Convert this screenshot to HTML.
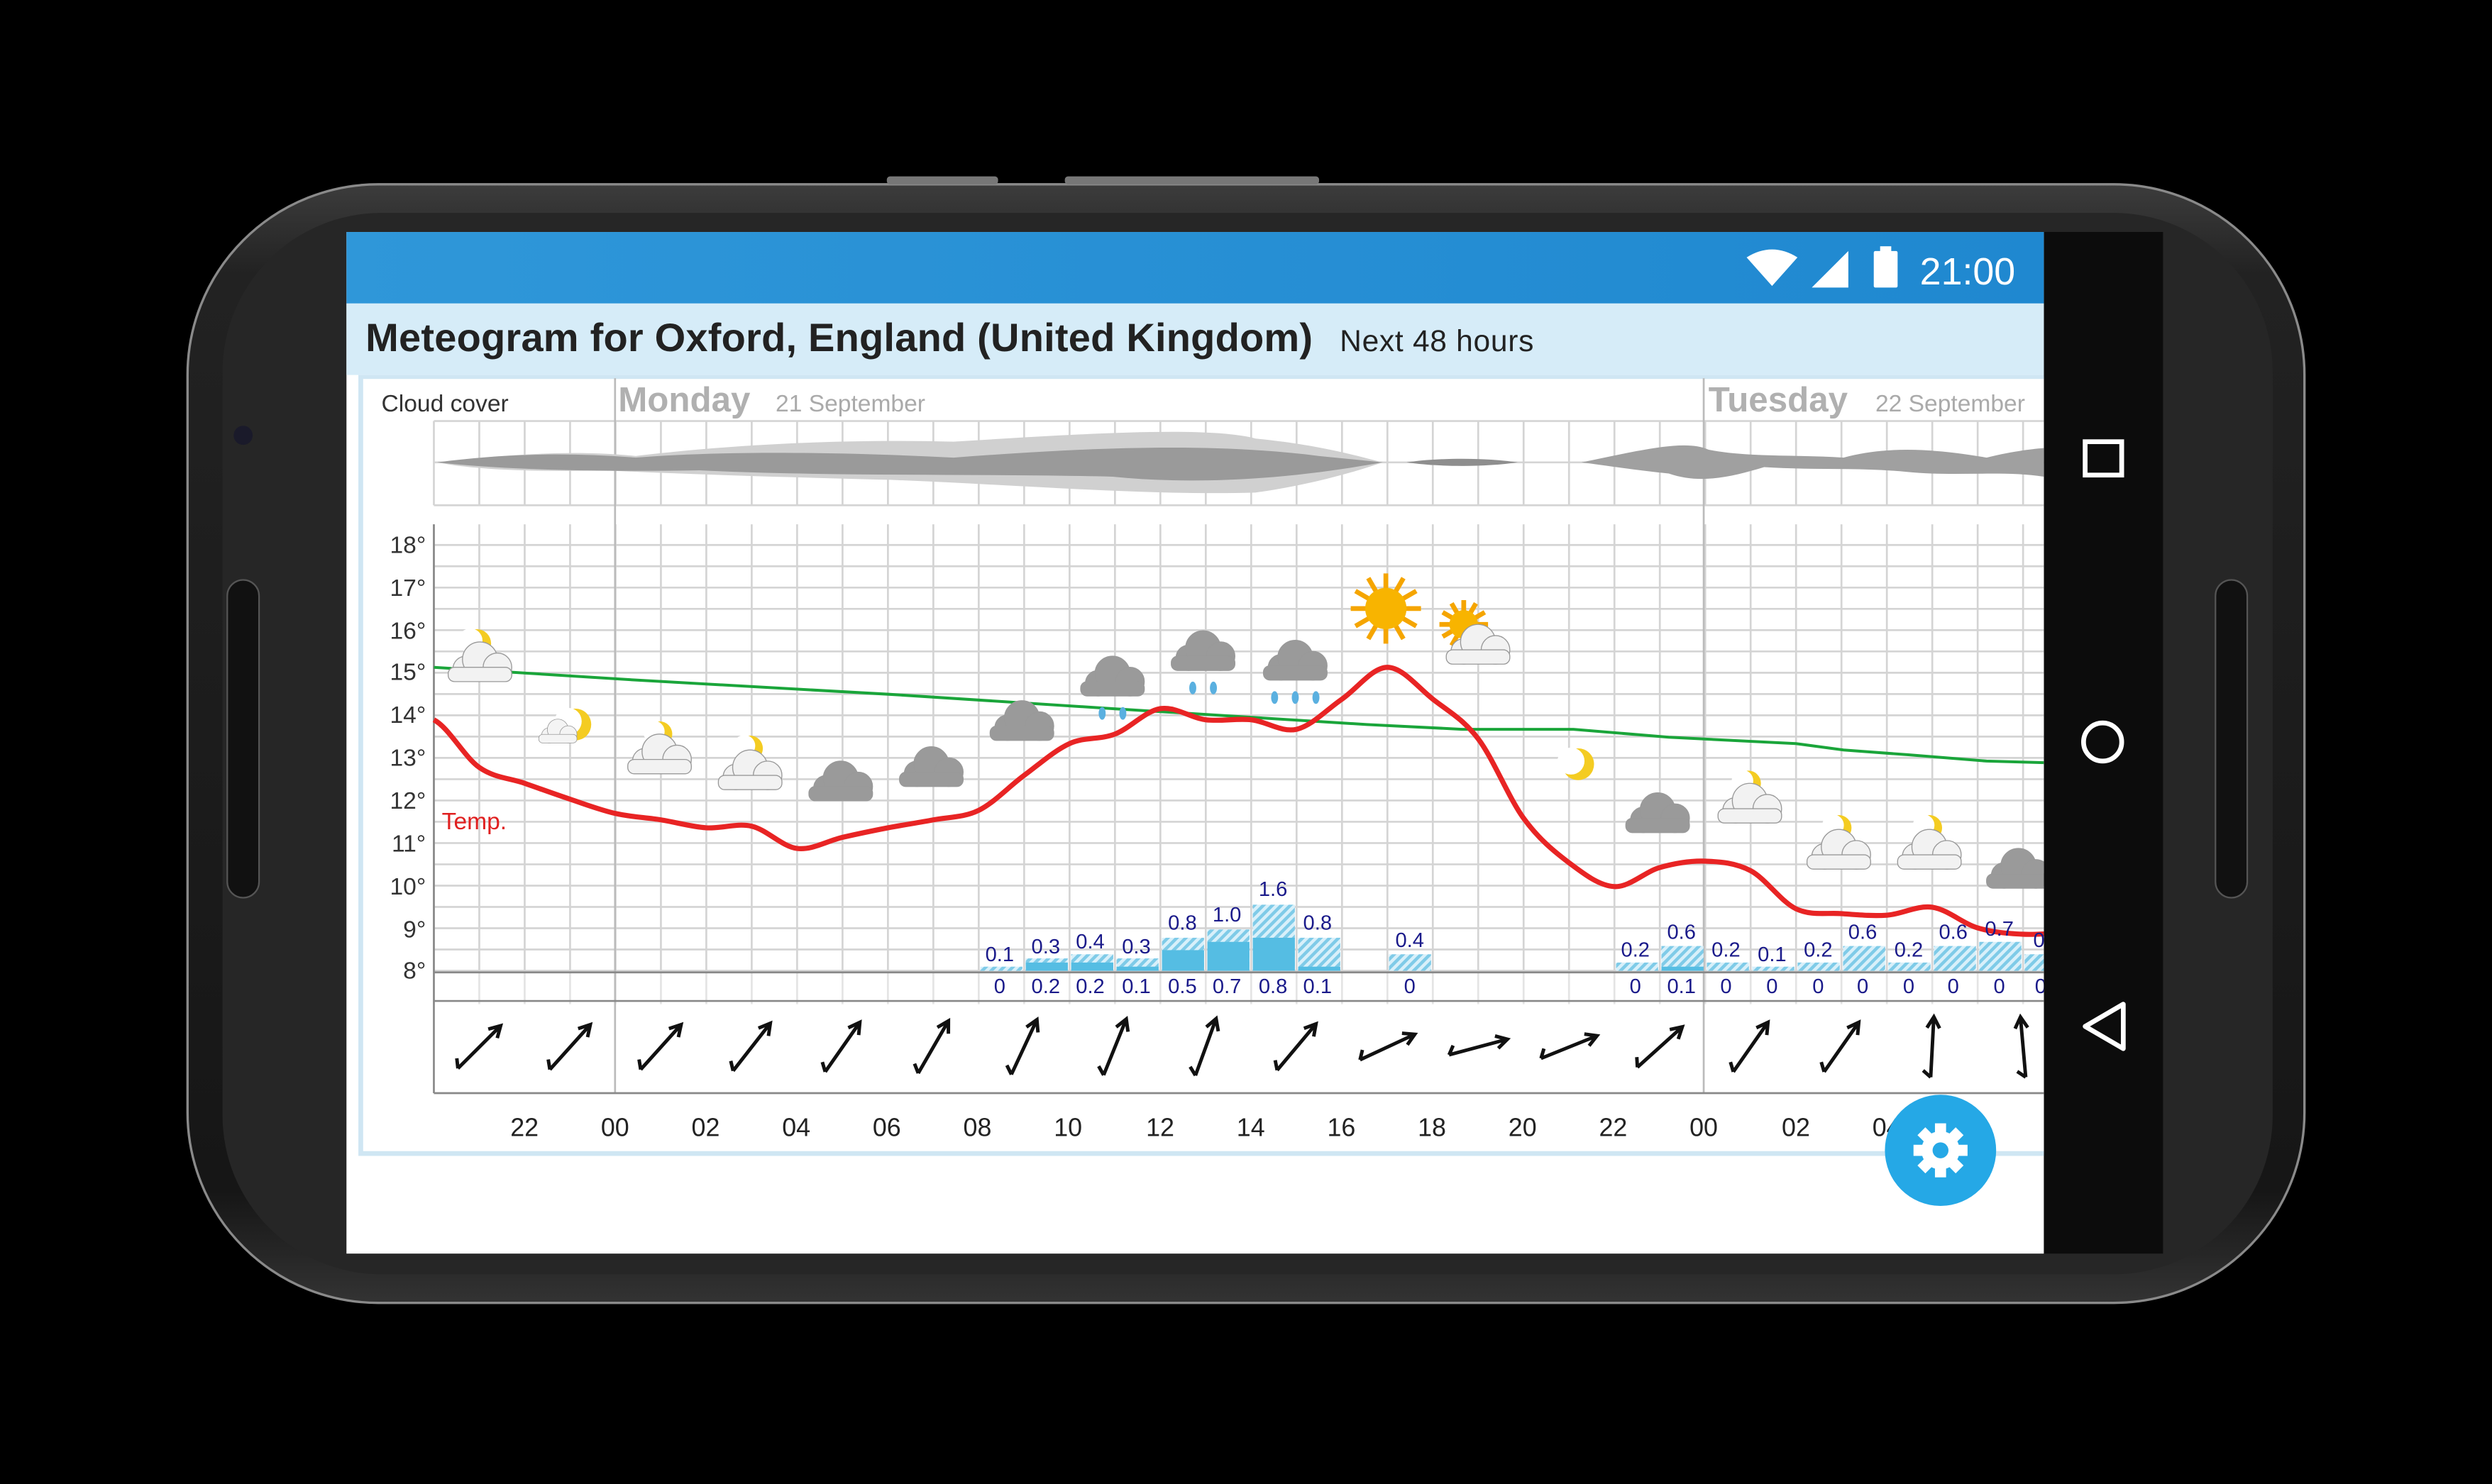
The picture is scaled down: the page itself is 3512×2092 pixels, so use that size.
<!DOCTYPE html>
<html><head><meta charset="utf-8">
<style>html,body{margin:0;padding:0;background:#000;}svg{display:block;}</style></head>
<body>
<svg id="s" width="3512" height="2092" viewBox="0 0 1568 934" xmlns="http://www.w3.org/2000/svg" font-family="Liberation Sans, sans-serif">
<defs>
<linearGradient id="body" x1="0" y1="0" x2="0" y2="1">
<stop offset="0" stop-color="#3c3c3c"/><stop offset="0.08" stop-color="#222"/><stop offset="0.9" stop-color="#161616"/><stop offset="1" stop-color="#333"/></linearGradient>
<linearGradient id="bar" x1="0" y1="0" x2="1" y2="0"><stop offset="0" stop-color="#2f97d9"/><stop offset="1" stop-color="#1f88d0"/></linearGradient>
<pattern id="hatch" width="4" height="4" patternUnits="userSpaceOnUse" patternTransform="rotate(45)"><rect width="4" height="4" fill="#d8f0fa"/><rect width="2" height="4" fill="#7fcbe8"/></pattern>
<g id="cl"><circle cx="-9" cy="3" r="8"/><circle cx="0" cy="-3" r="11"/><circle cx="11" cy="2" r="9"/><rect x="-20" y="2" width="40" height="9" rx="4"/></g>
<clipPath id="cc"><rect x="218" y="236" width="1068" height="500"/></clipPath>
</defs>
<rect width="1568" height="934" fill="#000"/>
<rect x="118" y="116" width="1332" height="704" rx="120" fill="url(#body)" stroke="#8a8a8a" stroke-width="1.5"/>
<rect x="140" y="134" width="1290" height="668" rx="100" fill="#262626"/>
<rect x="558" y="111" width="70" height="5" rx="2" fill="#777"/>
<rect x="670" y="111" width="160" height="5" rx="2" fill="#777"/>
<rect x="143" y="365" width="20" height="200" rx="10" fill="#111" stroke="#555"/>
<rect x="1394" y="365" width="20" height="200" rx="10" fill="#111" stroke="#555"/>
<circle cx="153" cy="274" r="6" fill="#1a1a2a"/>
<rect x="1286" y="146" width="75" height="643" fill="#0c0c0c"/>
<rect x="1312" y="278" width="23" height="21" fill="none" stroke="#fff" stroke-width="3"/>
<circle cx="1323" cy="467" r="12" fill="none" stroke="#fff" stroke-width="3"/>
<path d="M1336 632 L1336 660 L1312 646 Z" fill="none" stroke="#fff" stroke-width="3" stroke-linejoin="round"/>
<rect x="218" y="146" width="1068" height="643" fill="#fff"/>
<rect x="218" y="146" width="1068" height="45" fill="url(#bar)"/>
<path d="M1099 162 Q1115 152 1131 162 L1115 180 Z" fill="#fff"/>
<path d="M1163 158 L1163 181 L1140 181 Z" fill="#fff"/>
<rect x="1179" y="158" width="15" height="23" rx="1" fill="#fff"/><rect x="1183" y="155" width="7" height="4" fill="#fff"/>
<text x="1208" y="179" font-size="24" fill="#fff">21:00</text>
<rect x="218" y="191" width="1068" height="45" fill="#d6ecf8"/>
<text x="230" y="221" font-size="25" font-weight="bold" fill="#222" textLength="596">Meteogram for Oxford, England (United Kingdom)</text>
<text x="843" y="221" font-size="19" fill="#222" textLength="122">Next 48 hours</text>
<g clip-path="url(#cc)">
<rect x="227" y="237" width="1070" height="489" fill="#fff" stroke="#cfe6f3" stroke-width="3"/>
<g id="grid" stroke="#d4d4d4" stroke-width="1.2" fill="none"></g>
<text x="240" y="259" font-size="15" fill="#333">Cloud cover</text>
<text x="389" y="259" font-size="22" font-weight="bold" fill="#b0b0b0">Monday</text>
<text x="488" y="259" font-size="15" fill="#aaa">21 September</text>
<text x="1075" y="259" font-size="22" font-weight="bold" fill="#b0b0b0">Tuesday</text>
<text x="1180" y="259" font-size="15" fill="#aaa">22 September</text>
<path d="M275 291 C320 286 360 283 400 287 C450 281 520 276 600 278 C680 273 760 268 790 276 C830 280 850 286 870 291 C850 298 820 306 790 310 C720 312 640 305 560 302 C480 300 420 298 380 296 C340 297 300 296 275 291 Z" fill="#d0d0d0"/>
<path d="M275 291 C320 285 360 285 400 288 C450 284 520 284 600 288 C680 282 760 278 830 287 L870 291 C820 300 760 306 700 300 C620 298 520 300 440 296 C380 297 320 296 275 291 Z" fill="#9a9a9a"/>
<path d="M885 291 C905 288 935 288 955 291 C935 294 905 294 885 291 Z" fill="#8e8e8e"/>
<path d="M995 291 C1030 284 1060 276 1075 283 C1100 288 1130 286 1160 288 C1190 280 1220 283 1250 288 C1270 283 1286 282 1286 282 L1286 300 C1260 296 1230 300 1200 297 C1170 294 1140 296 1110 294 C1090 300 1070 305 1050 298 C1030 296 1010 293 995 291 Z" fill="#a0a0a0"/>
<polyline points="273,420 400,428 560,437 700,446 860,456 920,459 990,459 1050,464 1130,468 1160,472 1200,475 1250,479 1286,480" fill="none" stroke="#1aa53a" stroke-width="1.8"/>
<g id="bars"></g>
<path id="temp" fill="none" stroke="#e82424" stroke-width="3.2" stroke-linejoin="round"/>
<text x="278" y="522" font-size="15" fill="#e02020">Temp.</text>
<g font-size="15" fill="#333" text-anchor="end">
<text x="268" y="348">18°</text><text x="268" y="375">17°</text><text x="268" y="402">16°</text><text x="268" y="428">15°</text><text x="268" y="455">14°</text><text x="268" y="482">13°</text><text x="268" y="509">12°</text><text x="268" y="536">11°</text><text x="268" y="563">10°</text><text x="268" y="590">9°</text><text x="268" y="616">8°</text>
</g>
<g font-size="16" fill="#222" text-anchor="middle">
<text x="330" y="715">22</text><text x="387" y="715">00</text><text x="444" y="715">02</text><text x="501" y="715">04</text><text x="558" y="715">06</text><text x="615" y="715">08</text><text x="672" y="715">10</text><text x="730" y="715">12</text><text x="787" y="715">14</text><text x="844" y="715">16</text><text x="901" y="715">18</text><text x="958" y="715">20</text><text x="1015" y="715">22</text><text x="1072" y="715">00</text><text x="1130" y="715">02</text><text x="1187" y="715">04</text>
</g>
<g font-size="13" fill="#1a1a8a" text-anchor="middle">
<text x="629" y="605">0.1</text><text x="658" y="600">0.3</text><text x="686" y="597">0.4</text><text x="715" y="600">0.3</text><text x="744" y="585">0.8</text><text x="772" y="580">1.0</text><text x="801" y="564">1.6</text><text x="829" y="585">0.8</text><text x="887" y="596">0.4</text><text x="1029" y="602">0.2</text><text x="1058" y="591">0.6</text><text x="1086" y="602">0.2</text><text x="1115" y="605">0.1</text><text x="1144" y="602">0.2</text><text x="1172" y="591">0.6</text><text x="1201" y="602">0.2</text><text x="1229" y="591">0.6</text><text x="1258" y="589">0.7</text><text x="1283" y="596">0</text>
<text x="629" y="625">0</text><text x="658" y="625">0.2</text><text x="686" y="625">0.2</text><text x="715" y="625">0.1</text><text x="744" y="625">0.5</text><text x="772" y="625">0.7</text><text x="801" y="625">0.8</text><text x="829" y="625">0.1</text><text x="887" y="625">0</text><text x="1029" y="625">0</text><text x="1058" y="625">0.1</text><text x="1086" y="625">0</text><text x="1115" y="625">0</text><text x="1144" y="625">0</text><text x="1172" y="625">0</text><text x="1201" y="625">0</text><text x="1229" y="625">0</text><text x="1258" y="625">0</text><text x="1284" y="625">0</text>
</g>
<g id="wind" stroke="#111" stroke-width="2.2" fill="none"></g>
<g id="icons"></g>
</g>
<circle cx="1221" cy="724" r="35" fill="#25a8e6"/>
<g transform="translate(1221,724)" fill="#fff">
<circle r="12"/><g id="teeth"></g><circle r="5" fill="#25a8e6"/>
</g>
</svg>
<script>
var NS="http://www.w3.org/2000/svg";
function el(p,t,a){var e=document.createElementNS(NS,t);for(var k in a)e.setAttribute(k,a[k]);document.getElementById(p).appendChild(e);return e;}
var X=function(h){return 273+28.57*h;};
for(var h=0;h<=36;h++){var x=X(h);if(x>1286)break;
 el('grid','line',{x1:x,y1:265,x2:x,y2:318});
 el('grid','line',{x1:x,y1:330,x2:x,y2:612});
 el('grid','line',{x1:x,y1:612,x2:x,y2:632,stroke:'#e4e4e4'});}
[265,291,318].forEach(function(y){el('grid','line',{x1:273,y1:y,x2:1286,y2:y});});
for(var y=343;y<=612;y+=13.4)el('grid','line',{x1:273,y1:y,x2:1286,y2:y});
el('grid','line',{x1:387,y1:238,x2:387,y2:688,stroke:'#bbb'});
el('grid','line',{x1:1072,y1:238,x2:1072,y2:688,stroke:'#bbb'});
el('grid','line',{x1:273,y1:330,x2:273,y2:688,stroke:'#888'});
el('grid','line',{x1:273,y1:612,x2:1286,y2:612,stroke:'#888'});
el('grid','line',{x1:273,y1:630,x2:1286,y2:630,stroke:'#888'});
el('grid','line',{x1:273,y1:688,x2:1286,y2:688,stroke:'#888'});
var B=[[12,.1,0],[13,.3,.2],[14,.4,.2],[15,.3,.1],[16,.8,.5],[17,1,.7],[18,1.6,.8],[19,.8,.1],[21,.4,0],[26,.2,0],[27,.6,.1],[28,.2,0],[29,.1,0],[30,.2,0],[31,.6,0],[32,.2,0],[33,.6,0],[34,.7,0],[35,.4,0]];
B.forEach(function(b){var x=X(b[0])+1,w=26.5,s=26;
 el('bars','rect',{x:x,y:611-b[1]*s,width:w,height:b[1]*s,fill:'url(#hatch)'});
 if(b[2]>0)el('bars','rect',{x:x,y:611-b[2]*s,width:w,height:b[2]*s,fill:'#55bde3'});});
var T=[453,483,493,503,512,516,521,520,534,527,521,516,510,488,468,462,446,453,453,459,440,420,440,465,515,543,558,546,542,548,572,575,576,571,584,588,587];
var d="M"+X(0)+" "+T[0];
for(var i=1;i<T.length;i++){var x0=X(i-1),x1=X(i);var y0=T[i-1],y1=T[i];var pm=T[i-2]!==undefined?T[i-2]:y0,pn=T[i+1]!==undefined?T[i+1]:y1;
 d+=" C"+(x0+9.5)+" "+(y0+(y1-pm)/6)+" "+(x1-9.5)+" "+(y1-(pn-y0)/6)+" "+x1+" "+y1;}
document.getElementById('temp').setAttribute('d',d);
var A=[45,42,42,38,35,30,25,22,20,40,65,75,68,48,35,35,3,-5];
A.forEach(function(a,i){var cx=X(1+2*i),cy=659;var g=el('wind','g',{transform:'translate('+cx+','+cy+') rotate('+a+')'});
 var l=document.createElementNS(NS,'path');l.setAttribute('d','M0 -19 L0 19 M-4 -12 L0 -19 L4 -12 M0 19 L-5 15');g.appendChild(l);});
function cloud(x,y,c,sc){var g=el('icons','g',{transform:'translate('+x+','+y+') scale('+(sc||1)+')',fill:c,stroke:'#999','stroke-width':0.6});g.innerHTML='<use href="#cl"/>';return g;}
function moon(x,y,r){el('icons','circle',{cx:x,cy:y,r:r,fill:'#f4cc22'});el('icons','circle',{cx:x-r*0.45,cy:y-r*0.2,r:r*0.85,fill:'#fff'});}
function sun(x,y,r){for(var k=0;k<12;k++){var a=k*Math.PI/6;el('icons','line',{x1:x,y1:y,x2:x+Math.cos(a)*r*1.7,y2:y+Math.sin(a)*r*1.7,stroke:'#f5a500','stroke-width':3});}el('icons','circle',{cx:x,cy:y,r:r,fill:'#f8b400'});}
function rain(x,y,n){for(var k=0;k<n;k++)el('icons','ellipse',{cx:x+k*13-(n-1)*6.5,cy:y,rx:2.2,ry:4,fill:'#5ab0e0'});}
moon(300,405,9);cloud(302,418,'#f2f2f2');
moon(362,456,10);cloud(351,461,'#f4f4f4',0.6);
moon(415,462,8);cloud(415,476,'#f2f2f2');
moon(472,471,8);cloud(472,486,'#f2f2f2');
cloud(529,493,'#9a9a9a');cloud(586,484,'#9a9a9a');cloud(643,455,'#9a9a9a');
cloud(700,427,'#9a9a9a');rain(700,449,2);
cloud(757,411,'#9a9a9a');rain(757,433,2);
cloud(815,417,'#9a9a9a');rain(815,439,3);
sun(872,383,13);
sun(921,393,9);cloud(930,407,'#f2f2f2');
moon(993,481,10);
cloud(1043,513,'#9a9a9a');
moon(1100,493,8);cloud(1101,507,'#f2f2f2');
moon(1157,521,8);cloud(1157,536,'#f2f2f2');
moon(1214,521,8);cloud(1214,536,'#f2f2f2');
cloud(1270,548,'#9a9a9a');
for(var k=0;k<8;k++)el('teeth','rect',{x:-3.5,y:-17,width:7,height:8,transform:'rotate('+k*45+')'});
</script>
</body></html>
